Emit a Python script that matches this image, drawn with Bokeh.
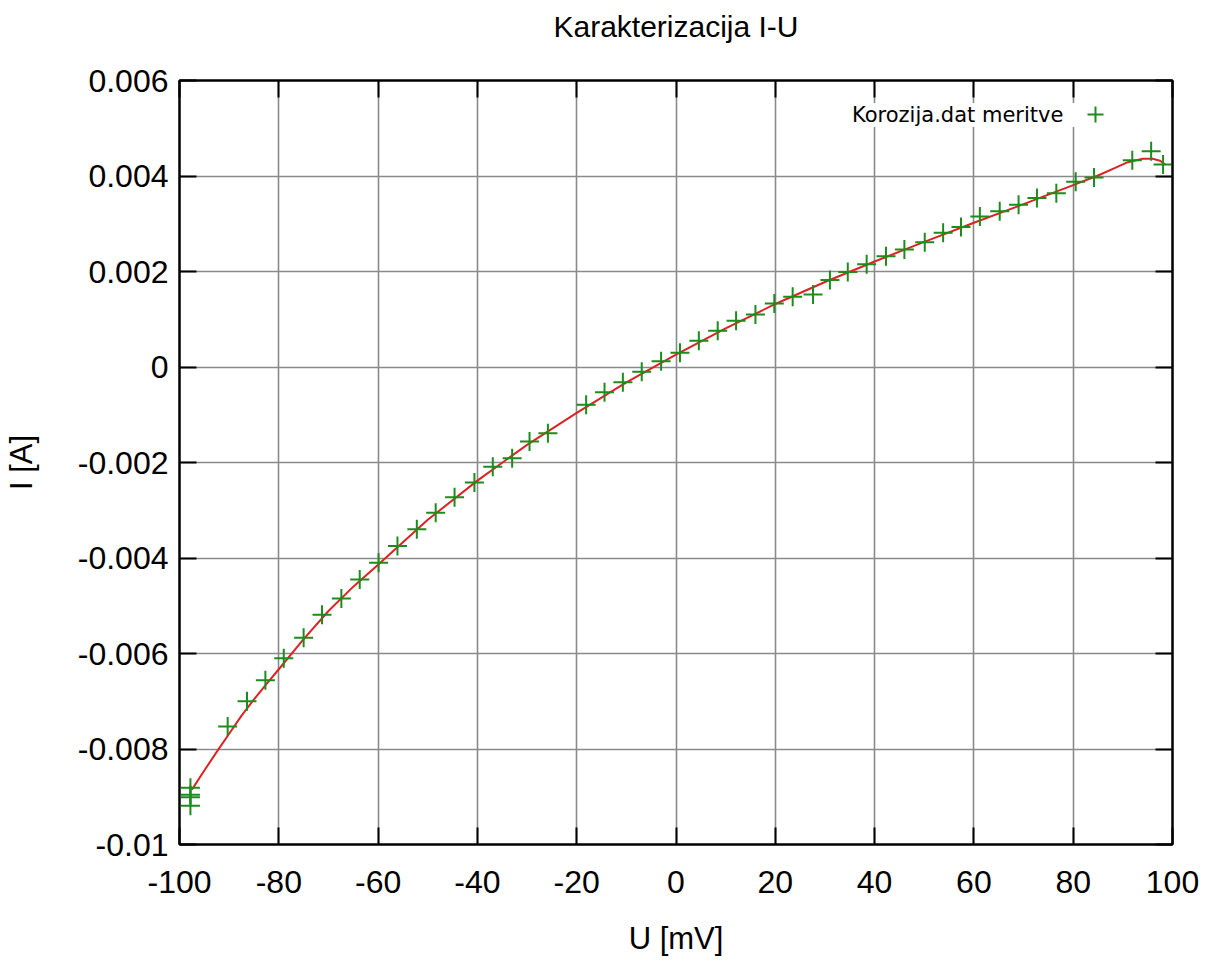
from bokeh.plotting import figure
from bokeh.models import (ColumnDataSource, FixedTicker, LinearAxis, Legend, LegendItem)
from bokeh.embed import file_html
from bokeh.resources import INLINE

# ---- data ----
u_meas = [-97.8, -97.8, -97.8, -97.8, -90.3, -86.4, -82.7, -79.0, -75.0, -71.3,
          -67.4, -63.7, -59.9, -56.1, -52.2, -48.4, -44.6, -40.6, -36.9, -33.0,
          -29.5, -25.8, -18.1, -14.4, -10.7, -6.9, -3.0, 0.8, 4.6, 8.4,
          12.1, 16.0, 19.8, 23.5, 27.6, 31.0, 34.6, 38.4, 42.3, 46.0,
          50.1, 53.8, 57.4, 61.2, 65.2, 69.0, 72.7, 76.6, 80.5, 84.2,
          91.9, 95.7, 98.1]
i_meas = [-0.00881, -0.00896, -0.00901, -0.00919, -0.00753, -0.00700, -0.00656, -0.00610, -0.00567, -0.00519,
          -0.00485, -0.00445, -0.00410, -0.00375, -0.00340, -0.00305, -0.00273, -0.00242, -0.00209, -0.00191,
          -0.00156, -0.00139, -0.00079, -0.00053, -0.00032, -0.00010, 0.00012, 0.00030, 0.00055, 0.00076,
          0.00097, 0.00110, 0.00133, 0.00147, 0.00152, 0.00182, 0.00199, 0.00215, 0.00232, 0.00246,
          0.00261, 0.00281, 0.00293, 0.00315, 0.00326, 0.00340, 0.00354, 0.00364, 0.00388, 0.00397,
          0.00433, 0.00452, 0.00424]

u_fit = [-97.5, -95, -92.5, -90, -87.5, -85, -82.5, -80, -75, -70, -65, -60, -50, -40,
         -30, -20, -10, 0, 10, 20, 30, 40, 50, 60, 70, 80, 85, 88, 91, 94, 96, 97.5, 98.5]
i_fit = [-0.00885, -0.00845, -0.00806, -0.00768, -0.00730, -0.00696, -0.00664, -0.00633,
         -0.00570, -0.00511, -0.00460, -0.00414, -0.00320, -0.00238, -0.00163, -0.00096,
         -0.00032, 0.00026, 0.00081, 0.00132, 0.00178, 0.00221, 0.00262, 0.00302, 0.00341,
         0.00381, 0.00401, 0.00415, 0.00429, 0.00436, 0.00436, 0.00432, 0.00424]

x_ticks = [-100, -80, -60, -40, -20, 0, 20, 40, 60, 80, 100]
x_tick_labels = ["-100", "-80", "-60", "-40", "-20", "0", "20", "40", "60", "80", "100"]
y_ticks = [-0.01, -0.008, -0.006, -0.004, -0.002, 0, 0.002, 0.004, 0.006]
y_tick_labels = ["-0.01", "-0.008", "-0.006", "-0.004", "-0.002", "0", "0.002", "0.004", "0.006"]

title_text = "Karakterizacija I-U"
x_label = "U [mV]"
y_label = "I [A]"
series_label = "Korozija.dat meritve"

FONT = "Liberation Sans"
GREEN = "#1c8c1c"
RED = "#dd2222"

p = figure(width=1202, height=958, x_range=(-100, 100), y_range=(-0.01, 0.006),
           output_backend="svg", toolbar_location=None,
           min_border_left=179, min_border_right=30, min_border_top=80, min_border_bottom=111)

p.background_fill_color = "white"
p.border_fill_color = "white"
p.outline_line_color = "black"
p.outline_line_width = 2

xt = FixedTicker(ticks=x_ticks)
yt = FixedTicker(ticks=y_ticks)
x_over = {t: l for t, l in zip(x_ticks, x_tick_labels)}
y_over = {t: l for t, l in zip(y_ticks, y_tick_labels)}

def style_axis(ax, ticker, over, show_labels):
    ax.ticker = ticker
    ax.major_label_overrides = over
    ax.axis_line_color = "black"
    ax.axis_line_width = 2
    ax.major_tick_line_color = "black"
    ax.major_tick_line_width = 2
    ax.major_tick_in = 17
    ax.major_tick_out = 0
    ax.minor_tick_line_color = None
    ax.major_label_text_font = FONT
    if show_labels:
        ax.major_label_text_font_size = "32px"
        ax.major_label_text_color = "black"
    else:
        ax.major_label_text_font_size = "1px"
        ax.major_label_text_color = None
        ax.major_label_standoff = 0

style_axis(p.xaxis[0], xt, x_over, True)
style_axis(p.yaxis[0], yt, y_over, True)
p.xaxis[0].major_label_standoff = 26
p.yaxis[0].major_label_standoff = 11

for ax, lab in ((p.xaxis[0], x_label), (p.yaxis[0], y_label)):
    ax.axis_label = lab
    ax.axis_label_text_font = FONT
    ax.axis_label_text_font_size = "31px"
    ax.axis_label_text_font_style = "normal"
    ax.axis_label_text_color = "black"
p.xaxis[0].axis_label_standoff = 25
p.yaxis[0].axis_label_standoff = 36

# mirrored ticks; the top one carries the chart title, centred over the frame
top_ax = LinearAxis()
right_ax = LinearAxis()
style_axis(top_ax, FixedTicker(ticks=x_ticks), x_over, False)
style_axis(right_ax, FixedTicker(ticks=y_ticks), y_over, False)
top_ax.axis_label = title_text
top_ax.axis_label_text_font = FONT
top_ax.axis_label_text_font_size = "30px"
top_ax.axis_label_text_font_style = "normal"
top_ax.axis_label_text_color = "black"
top_ax.axis_label_standoff = 38
p.add_layout(top_ax, "above")
p.add_layout(right_ax, "right")

# grid
p.xgrid.ticker = FixedTicker(ticks=x_ticks)
p.ygrid.ticker = FixedTicker(ticks=y_ticks)
p.grid.grid_line_color = "#8a8a8a"
p.grid.grid_line_width = 1.6

src_fit = ColumnDataSource(dict(u=u_fit, i=i_fit))
src_pts = ColumnDataSource(dict(u=u_meas, i=i_meas))

p.line("u", "i", source=src_fit, line_color=RED, line_width=2)
pts = p.scatter("u", "i", source=src_pts, marker="cross", size=19,
                line_color=GREEN, line_width=2)

# gnuplot-style key: text first, then the sample marker on its right
leg_text = Legend(items=[LegendItem(label=series_label, renderers=[])],
                  location=(673, 717), glyph_width=0, glyph_height=20, label_standoff=0,
                  label_width=228, padding=5, margin=0, spacing=0,
                  border_line_color=None, background_fill_color="white", background_fill_alpha=1.0,
                  label_text_font="DejaVu Sans", label_text_font_size="21px", label_text_color="black")
leg_mark = Legend(items=[LegendItem(label=" ", renderers=[pts])],
                  location=(896, 710), glyph_width=40, glyph_height=40, label_standoff=0,
                  padding=0, margin=0, spacing=0,
                  border_line_color=None, background_fill_color="white", background_fill_alpha=1.0,
                  label_text_font="DejaVu Sans", label_text_font_size="21px")
p.add_layout(leg_text, "center")
p.add_layout(leg_mark, "center")

open("out.html", "w").write(file_html(p, INLINE))
